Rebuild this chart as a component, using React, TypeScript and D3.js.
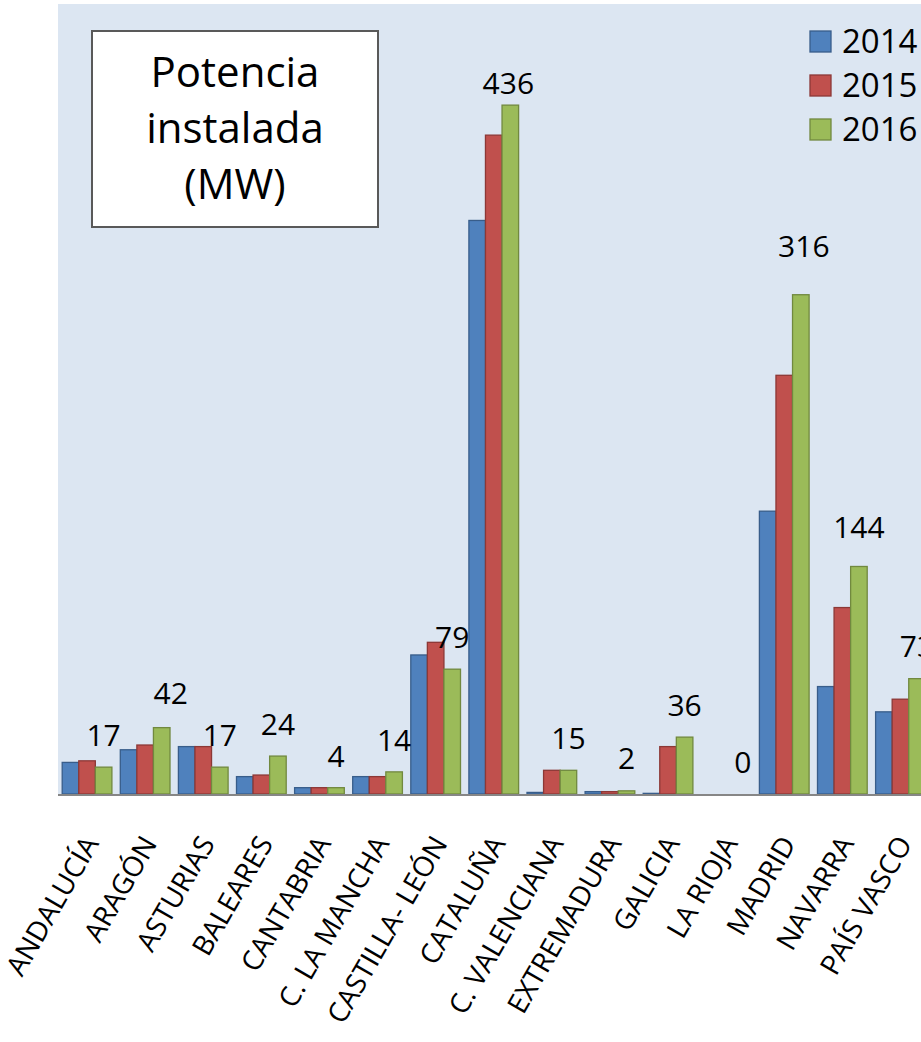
import React from "react";
import * as d3 from "d3";

const categories = [
  "ANDALUCÍA", "ARAGÓN", "ASTURIAS", "BALEARES", "CANTABRIA", "C. LA MANCHA",
  "CASTILLA- LEÓN", "CATALUÑA", "C. VALENCIANA", "EXTREMADURA", "GALICIA",
  "LA RIOJA", "MADRID", "NAVARRA", "PAÍS VASCO",
];
const years = ["2014", "2015", "2016"];
const values2014 = [20, 28, 30, 11, 4, 11, 88, 363, 1, 1.5, 0.4, 0, 179, 68, 52];
const values2015 = [21, 31, 30, 12, 4, 11, 96, 417, 15, 1.5, 30, 0, 265, 118, 60];
const values2016 = [17, 42, 17, 24, 4, 14, 79, 436, 15, 2, 36, 0, 316, 144, 73];
const seriesValues = [values2014, values2015, values2016];

// label nudges (dx, extra gap) for the 2016 value labels
const labelNudge: [number, number][] = [
  [0, 0], [9, 3], [0, 0], [0, 0], [0, 0], [0, 0], [0, 0], [-2, -10],
  [0, 0], [0, 1], [0, 0], [0, 0], [3, 17], [0, 7], [0, 1],
];

const fills = ["#4F81BD", "#C0504D", "#9BBB59"];
const strokes = ["#385D8A", "#8C3836", "#71893F"];
const FONT = "'Open Sans', 'DejaVu Sans', sans-serif";

export default function App() {
  const W = 921, H = 1042;
  const plotLeft = 58, plotTop = 4, baseY = 794;
  const x0 = d3.scaleBand<string>().domain(categories).range([58, 929.5]).padding(0);
  const step = x0.bandwidth();
  const x1 = d3.scaleBand<string>().domain(years).range([4.2, step - 4.2]).padding(0);
  const y = d3.scaleLinear().domain([0, 500]).range([baseY, plotTop]);

  return (
    <svg width={W} height={H} style={{ position: "absolute", left: 0, top: 0, background: "#fff" }} fontFamily={FONT}>
      <rect x={plotLeft} y={plotTop} width={W - plotLeft} height={baseY - plotTop} fill="#DCE6F2" />
      {categories.map((c, i) => (
        <g key={c} transform={`translate(${x0(c)},0)`}>
          {years.map((yr, s) => {
            const v = seriesValues[s][i];
            const yy = y(v);
            return (
              <rect key={yr} x={x1(yr)!} y={yy} width={x1.bandwidth()} height={Math.max(0, baseY - yy)}
                fill={fills[s]} stroke={strokes[s]} strokeWidth={1.3} />
            );
          })}
        </g>
      ))}
      <line x1={plotLeft} x2={W} y1={baseY + 1} y2={baseY + 1} stroke="#868686" strokeWidth={2} />
      {categories.map((c, i) => {
        const v = values2016[i];
        const cx = x0(c)! + x1("2016")! + x1.bandwidth() / 2 + labelNudge[i][0];
        const ty = y(v) - 21 - labelNudge[i][1];
        return (
          <text key={c} x={cx} y={ty} textAnchor="middle" fontSize={30} fill="#000">{v}</text>
        );
      })}
      {categories.map((c) => {
        const cx = x0(c)! + step / 2;
        return (
          <text key={c} transform={`translate(${cx + 3},838) rotate(-60)`} textAnchor="end"
            dominantBaseline="central" fontSize={28} fill="#000">{c}</text>
        );
      })}
      <rect x={92} y={31} width={286} height={196} fill="#fff" stroke="#595959" strokeWidth={2} />
      {["Potencia", "instalada", "(MW)"].map((t, i) => (
        <text key={t} x={235} y={87 + i * 56} textAnchor="middle" fontSize={42} fill="#000">{t}</text>
      ))}
      {years.map((yr, s) => (
        <g key={yr} transform={`translate(810,${31 + s * 44})`}>
          <rect x={0} y={0} width={21} height={21} fill={fills[s]} stroke={strokes[s]} strokeWidth={1.3} />
          <text x={32} y={22} fontSize={33} fill="#000">{yr}</text>
        </g>
      ))}
    </svg>
  );
}
